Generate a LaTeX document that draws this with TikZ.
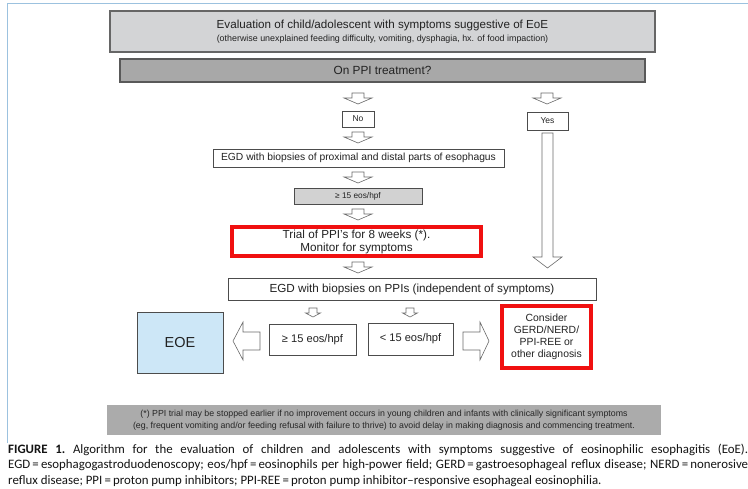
\documentclass[tikz,border=0pt]{standalone}
\usepackage{fontspec}
\setmainfont{Liberation Sans}
\newfontfamily\capfont{Carlito}
\definecolor{txt}{HTML}{222222}
\definecolor{framecol}{HTML}{9CC2DF}
\definecolor{topfill}{HTML}{D3D4D6}
\definecolor{ppifill}{HTML}{A8A8A8}
\definecolor{lightfill}{HTML}{D2D2D2}
\definecolor{eoefill}{HTML}{CDE7F7}
\definecolor{footfill}{HTML}{ABABAB}
\definecolor{redbox}{HTML}{F01010}
\definecolor{arrowcol}{HTML}{6A6A6A}
\newcommand\FS[2]{\fontsize{#1}{#2}\selectfont}
% down block arrow: cx, top, tip, shaft half width, head half width, head length
\newcommand\DownBlock[6]{%
  \draw[barrow] (#1-#4,#2) -- (#1+#4,#2) -- (#1+#4,#3-#6) -- (#1+#5,#3-#6) -- (#1,#3)
    -- (#1-#5,#3-#6) -- (#1-#4,#3-#6) -- cycle;}
% horizontal block arrow: tail x, tip x, cy, shaft half width, head half width, head length (signed)
\newcommand\SideBlock[6]{%
  \draw[barrow] (#1,#3-#4) -- (#2-#6,#3-#4) -- (#2-#6,#3-#5) -- (#2,#3) -- (#2-#6,#3+#5)
    -- (#2-#6,#3+#4) -- (#1,#3+#4) -- cycle;}
\begin{document}
\begin{tikzpicture}[x=1pt,y=-1pt,
  every node/.style={text=txt, inner sep=0pt, align=center},
  box/.style={draw=black!70, line width=0.7pt, fill=white},
  headbox/.style={draw=black!60, line width=1.1pt},
  redframe/.style={draw=redbox, line width=3.6pt, fill=white},
  barrow/.style={draw=arrowcol, line width=0.6pt, fill=white, line join=miter}]
\useasboundingbox (0,0) rectangle (748,488);
% outer frame (left and top)
\draw[framecol, line width=0.9pt] (7,443) -- (7,3) -- (750,3);

% header boxes
\node[headbox, fill=topfill, minimum width=545pt, minimum height=41pt] (eval) at (382.5,31.5)
  {{\FS{11.65}{13}Evaluation of child/adolescent with symptoms suggestive of EoE}\\[0.5pt]
   {\FS{8.9}{10}(otherwise unexplained feeding difficulty, vomiting, dysphagia, hx. of food impaction)}};
\node[headbox, draw=black!65, fill=ppifill, minimum width=525pt, minimum height=23pt, font=\FS{11.8}{13}] (ppi) at (382.5,70.5) {On PPI treatment?};

% No branch
\node[box, minimum width=32pt, minimum height=16pt, font=\FS{8.5}{10}] (no) at (358,119) {No};
\node[box, minimum width=41pt, minimum height=18pt, font=\FS{8.5}{10}] (yes) at (547.5,121) {Yes};
\node[box, minimum width=291pt, minimum height=18pt, font=\FS{10.3}{12}] (egd1) at (358.5,158)
  {EGD with biopsies of proximal and distal parts of esophagus};
\node[box, fill=lightfill, minimum width=128pt, minimum height=16pt, font=\FS{8.3}{10}] (g15) at (358,196)
  {≥ 15 eos/hpf};
\node[redframe, minimum width=249pt, minimum height=29pt, font=\FS{11.7}{13}] (trial) at (356.5,241.5)
  {Trial of PPI's for 8 weeks (*).\\Monitor for symptoms};
\node[box, minimum width=368pt, minimum height=22pt, font=\FS{11.7}{13}] (egd2) at (412,289)
  {EGD with biopsies on PPIs (independent of symptoms)};

% bottom row
\node[box, fill=eoefill, minimum width=86pt, minimum height=61pt, font=\FS{14.5}{16}] (eoe) at (180,342.5) {EOE};
\node[box, minimum width=87pt, minimum height=31pt, font=\FS{11.1}{12}] (ge15) at (312.5,339.5) {≥ 15 eos/hpf};
\node[box, minimum width=85pt, minimum height=32pt, font=\FS{11.1}{12}] (lt15) at (410.5,339) {< 15 eos/hpf};
\node[redframe, minimum width=89pt, minimum height=62pt, font=\FS{10.4}{12}] (consider) at (546.5,337)
  {Consider\\GERD/NERD/\\PPI-REE or\\other diagnosis};

% footnote
\node[fill=footfill, minimum width=554pt, minimum height=30pt, font=\FS{8.8}{11.5}, text=black!85] (foot) at (384,420)
  {(*) PPI trial may be stopped earlier if no improvement occurs in young children and infants with clinically significant symptoms\\
   (eg, frequent vomiting and/or feeding refusal with failure to thrive) to avoid delay in making diagnosis and commencing treatment.};

% block arrows
\DownBlock{358}{93}{104}{6}{14}{6}
\DownBlock{547}{93}{104}{6}{14}{6}
\DownBlock{358}{132}{143}{6}{14}{6}
\DownBlock{358}{172}{183}{6}{14}{6}
\DownBlock{358}{209}{220}{6}{14}{6}
\DownBlock{358}{262}{273}{6}{14}{6}
\DownBlock{547.5}{133}{268}{5.5}{14.5}{11}
\DownBlock{313}{308}{317}{4}{7.5}{4}
\DownBlock{410}{308}{317}{4}{7.5}{4}
\SideBlock{260}{233}{341}{9}{19}{-10}
\SideBlock{463}{489}{341}{9}{19}{9}

% caption
\begin{scope}[every node/.style={anchor=base west, inner sep=0pt, text=black!92, font=\capfont\FS{12.85}{15}\frenchspacing}]
\node (cap1) at (8,453) {\makebox[740pt][s]{\textbf{FIGURE 1.} Algorithm for the evaluation of children and adolescents with symptoms suggestive of eosinophilic esophagitis (EoE).}};
\node (cap2) at (8,468.5) {\makebox[740pt][s]{EGD\,=\,esophagogastroduodenoscopy; eos/hpf\,=\,eosinophils per high-power field; GERD\,=\,gastroesophageal reflux disease; NERD\,=\,nonerosive}};
\node (cap3) at (8,484) {reflux disease; PPI\,=\,proton pump inhibitors; PPI-REE\,=\,proton pump inhibitor–responsive esophageal eosinophilia.};
\end{scope}
\end{tikzpicture}
\end{document}
